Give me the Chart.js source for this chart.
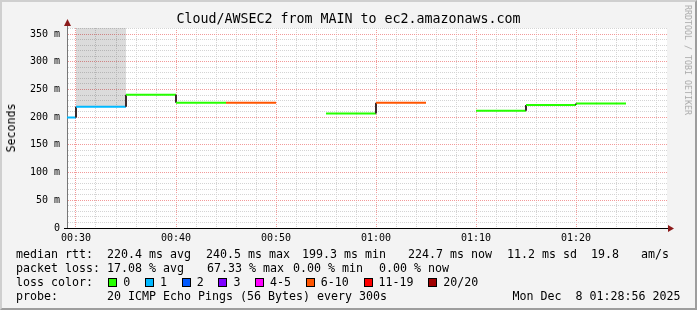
<!DOCTYPE html>
<html>
<head>
<meta charset="utf-8">
<title>Cloud/AWSEC2 from MAIN to ec2.amazonaws.com</title>
<script src="https://cdn.jsdelivr.net/npm/chart.js@4.4.1/dist/chart.umd.min.js"></script>
<style>
  body { margin: 0; background: #f3f3f3; }
  #graph { position: relative; width: 697px; height: 310px; background: #f3f3f3; overflow: hidden;
           font-family: 'DejaVu Sans Mono', monospace; color: #000; }
  #graph canvas { position: absolute; left: 0; top: 0; }
  .frame { position: absolute; left: 0; top: 0; width: 697px; height: 310px; box-sizing: border-box;
           border: 2px solid; border-color: #cfcfcf #9d9d9d #9d9d9d #cfcfcf; pointer-events: none; }
  .title { position: absolute; left: 0; width: 697px; top: 11px; text-align: center;
           font-size: 13.3px; line-height: 16px; white-space: pre; }
  .ylabel { position: absolute; left: 10.5px; top: 127.5px; font-size: 11.6px; line-height: 14px;
            white-space: pre; transform: translate(-50%, -50%) rotate(-90deg); }
  .mark { position: absolute; left: 688px; top: 60px; font-size: 8.3px; line-height: 10px; color: #aaa;
          white-space: pre; transform: translate(-50%, -50%) rotate(90deg); }
  .t { position: absolute; white-space: pre; font-size: 11.63px; line-height: 14px; }
  .box { position: absolute; width: 9px; height: 9px; box-sizing: border-box; border: 1px solid #000; }
</style>
</head>
<body>
<div id="graph">
  <canvas id="smokeChart" width="697" height="310"></canvas>
  <div class="title">Cloud/AWSEC2 from MAIN to ec2.amazonaws.com</div>
  <div class="ylabel">Seconds</div>
  <div class="mark">RRDTOOL / TOBI OETIKER</div>

  <div class="t" style="left:16px;top:247px">median rtt:</div>
  <div class="t" style="left:107px;top:247px">220.4 ms avg</div>
  <div class="t" style="left:206px;top:247px">240.5 ms max</div>
  <div class="t" style="left:302px;top:247px">199.3 ms min</div>
  <div class="t" style="left:408px;top:247px">224.7 ms now</div>
  <div class="t" style="left:507px;top:247px">11.2 ms sd</div>
  <div class="t" style="left:591px;top:247px">19.8</div>
  <div class="t" style="left:641px;top:247px">am/s</div>

  <div class="t" style="left:16px;top:261px">packet loss:</div>
  <div class="t" style="left:107px;top:261px">17.08 % avg</div>
  <div class="t" style="left:207px;top:261px">67.33 % max</div>
  <div class="t" style="left:293px;top:261px">0.00 % min</div>
  <div class="t" style="left:379px;top:261px">0.00 % now</div>

  <div class="t" style="left:16px;top:275px">loss color:</div>
  <div id="lossLegend"></div>

  <div class="t" style="left:16px;top:289px">probe:</div>
  <div class="t" style="left:107px;top:289px">20 ICMP Echo Pings (56 Bytes) every 300s</div>
  <div class="t" style="left:512.5px;top:289px">Mon Dec  8 01:28:56 2025</div>

  <div class="frame"></div>
</div>
<script>
// 5 minute steps, time in minutes after midnight
const intervalStart = [25, 30, 35, 40, 45, 50, 55, 60, 65, 70, 75, 80];
const intervalLength = 5;
const medianRtt = [199.3, 219, 240.5, 226, 226, null, 206.5, 226, null, 211.5, 222, 224.7];
const lossCount = [1, 1, 0, 0, 8, null, 0, 8, null, 0, 0, 0];
const smokeTop = [null, 400, null, null, null, null, null, null, null, null, null, null];

const lossLabels = ['0', '1', '2', '3', '4-5', '6-10', '11-19', '20/20'];
const lossLimit = [0, 1, 2, 3, 5, 10, 19, 20];
const lossColors = ['#26ff00', '#00b8ff', '#0059ff', '#7e00ff', '#ff00ff', '#ff5500', '#ff0000', '#a10000'];

const xMin = 29.1, xMax = 89.1;   // 00:29:06 .. 01:29:06
const yMin = 0, yMax = 361;
const xGridStep = 2, xLabelStep = 10;
const yGridStep = 10, yLabelStep = 50;

function lossColor(n) {
    for (let i = 0; i < lossLimit.length; i++) {
        if (n <= lossLimit[i]) return lossColors[i];
    }
    return lossColors[lossColors.length - 1];
}

function hhmm(m) {
    return String(Math.floor(m / 60)).padStart(2, '0') + ':' + String(m % 60).padStart(2, '0');
}

// loss colour legend, laid out like rrdtool does: box, gap, label, gap
const legendEl = document.getElementById('lossLegend');
let boxX = 108.3;
lossLabels.forEach((label, i) => {
    legendEl.insertAdjacentHTML('beforeend',
        '<div class="box" style="left:' + boxX + 'px;top:278px;background:' + lossColors[i] + '"></div>' +
        '<div class="t" style="left:' + (boxX + 15) + 'px;top:275px">' + label + '</div>');
    boxX += 29.7 + 7 * label.length;
});

// median line: two points per interval, verticals join neighbouring intervals
const medianPoints = [];
intervalStart.forEach((s, k) => {
    const v = medianRtt[k];
    medianPoints.push({ x: s, y: v }, { x: s + intervalLength, y: v });
});

const smokeSets = [];
intervalStart.forEach((s, k) => {
    if (smokeTop[k] == null || medianRtt[k] == null) return;
    smokeSets.push({
        data: [{ x: s, y: smokeTop[k] }, { x: s + intervalLength, y: smokeTop[k] }],
        borderWidth: 0,
        pointRadius: 0,
        backgroundColor: 'rgba(0, 0, 0, 0.14)',
        fill: { value: medianRtt[k] }
    });
});

const xTicks = [];
for (let v = Math.ceil(xMin / xGridStep) * xGridStep; v < xMax; v += xGridStep) xTicks.push(v);
const yTicks = [];
for (let v = yMin; v <= yMax; v += yGridStep) yTicks.push(v);

const plotBackground = {
    id: 'plotBackground',
    beforeDraw(chart) {
        const { ctx, chartArea: a } = chart;
        ctx.save();
        ctx.fillStyle = '#ffffff';
        ctx.fillRect(a.left, a.top, a.right - a.left, a.bottom - a.top);
        ctx.restore();
    }
};

const axisArrows = {
    id: 'axisArrows',
    afterDraw(chart) {
        const { ctx, chartArea: a } = chart;
        const ax = Math.round(a.left) + 0.5;
        const ay = Math.round(a.bottom) + 0.5;
        ctx.save();
        ctx.lineWidth = 1;
        ctx.strokeStyle = '#777';
        ctx.beginPath();
        ctx.moveTo(ax, a.top);
        ctx.lineTo(ax, a.top - 3);
        ctx.stroke();
        ctx.strokeStyle = '#000';
        ctx.beginPath();
        ctx.moveTo(a.left - 3, ay);
        ctx.lineTo(a.right + 2, ay);
        ctx.stroke();
        ctx.fillStyle = '#8b1a1a';
        ctx.beginPath();
        ctx.moveTo(ax, a.top - 9);
        ctx.lineTo(ax - 3.5, a.top - 2);
        ctx.lineTo(ax + 3.5, a.top - 2);
        ctx.closePath();
        ctx.fill();
        ctx.beginPath();
        ctx.moveTo(a.right + 7, ay);
        ctx.lineTo(a.right + 1, ay - 3.5);
        ctx.lineTo(a.right + 1, ay + 3.5);
        ctx.closePath();
        ctx.fill();
        ctx.restore();
    }
};

const tickFont = { family: 'DejaVu Sans Mono', size: 10 };
const majorGrid = '#f29a9a';
const minorGrid = '#d4d4d4';

new Chart(document.getElementById('smokeChart'), {
    type: 'line',
    data: {
        datasets: [{
            data: medianPoints,
            borderWidth: 2,
            borderColor: '#333',
            pointRadius: 0,
            tension: 0,
            spanGaps: false,
            borderCapStyle: 'butt',
            segment: {
                borderColor: ctx => {
                    if (Math.abs(ctx.p0.x - ctx.p1.x) < 0.5) return '#3a2a2a';
                    return lossColor(lossCount[Math.floor(ctx.p0DataIndex / 2)]);
                }
            }
        }, ...smokeSets]
    },
    options: {
        responsive: false,
        animation: false,
        devicePixelRatio: 1,
        layout: { padding: { left: 0, top: 28, right: 30, bottom: 62 } },
        plugins: { legend: { display: false }, tooltip: { enabled: false } },
        scales: {
            x: {
                type: 'linear',
                min: xMin,
                max: xMax,
                afterBuildTicks: scale => { scale.ticks = xTicks.map(v => ({ value: v })); },
                afterFit: scale => { scale.height = 20; },
                grid: {
                    drawTicks: false,
                    lineWidth: 1,
                    color: ctx => ctx.tick.value % xLabelStep === 0 ? majorGrid : minorGrid
                },
                border: { display: true, color: '#000', width: 1, dash: [1, 1] },
                ticks: {
                    autoSkip: false,
                    maxRotation: 0,
                    padding: 4,
                    color: '#000',
                    font: tickFont,
                    callback: v => v % xLabelStep === 0 ? hhmm(v) : ''
                }
            },
            y: {
                type: 'linear',
                min: yMin,
                max: yMax,
                afterBuildTicks: scale => { scale.ticks = yTicks.map(v => ({ value: v })); },
                afterFit: scale => { scale.width = 67; },
                grid: {
                    drawTicks: false,
                    lineWidth: 1,
                    color: ctx => ctx.tick.value === 0 ? 'rgba(0,0,0,0)' :
                        (ctx.tick.value % yLabelStep === 0 ? majorGrid : minorGrid)
                },
                border: { display: true, color: '#777', width: 1, dash: [1, 1] },
                ticks: {
                    autoSkip: false,
                    padding: 7,
                    color: '#000',
                    font: tickFont,
                    callback: v => v % yLabelStep === 0 ? (v === 0 ? '0' : v + ' m') : ''
                }
            }
        }
    },
    plugins: [plotBackground, axisArrows]
});
</script>
</body>
</html>
